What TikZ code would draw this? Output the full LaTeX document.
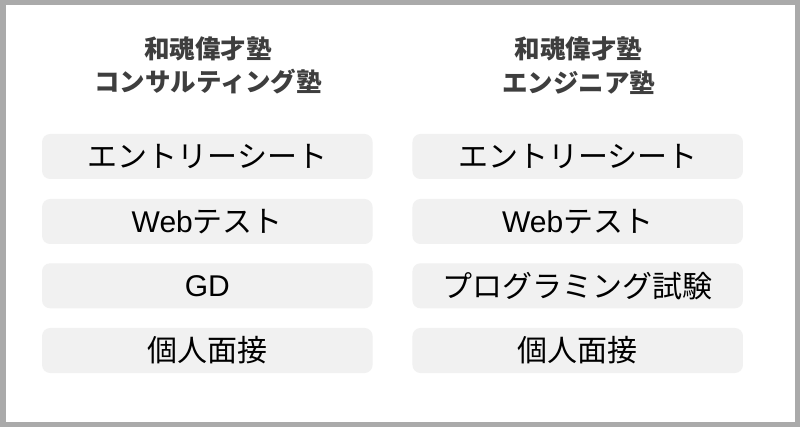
\documentclass[tikz,border=0pt]{standalone}
\usepackage{fontspec}
\setmainfont{Noto Sans CJK JP}
\newfontfamily\latinf{Liberation Sans}
\definecolor{boxgray}{HTML}{F1F1F1}
\definecolor{titlegray}{HTML}{3E3E3E}
\definecolor{framegray}{HTML}{AAAAAA}
\begin{document}
\begin{tikzpicture}[x=1pt,y=-1pt,
  stagebox/.style={rounded corners=8pt, fill=boxgray, minimum width=330.5pt, minimum height=45pt, inner sep=0pt, font=\fontsize{30}{32}\selectfont, text=black},
  coltitle/.style={align=center, inner sep=0pt, font=\bfseries\fontsize{25.5}{33.5}\selectfont, text=titlegray}]
\fill[framegray] (0,0) rectangle (800,427);
\fill[white] (5.5,5.5) rectangle (794.5,421.5);
\useasboundingbox (0,0) rectangle (800,427);
% left column
\node[coltitle] (tl) at (208,65.5) {和魂偉才塾\\コンサルティング塾};
\node[stagebox] (l1) at (207.3,156.5) {エントリーシート};
\node[stagebox] (l2) at (207.3,221.5) {{\latinf Web}テスト};
\node[stagebox] (l3) at (207.3,285.8) {{\latinf GD}};
\node[stagebox] (l4) at (207.3,350.5) {個人面接};
% right column
\node[coltitle] (tr) at (578.5,65.5) {和魂偉才塾\\エンジニア塾};
\node[stagebox] (r1) at (577.7,156.5) {エントリーシート};
\node[stagebox] (r2) at (577.7,221.5) {{\latinf Web}テスト};
\node[stagebox] (r3) at (577.7,285.8) {プログラミング試験};
\node[stagebox] (r4) at (577.7,350.5) {個人面接};
\end{tikzpicture}
\end{document}
